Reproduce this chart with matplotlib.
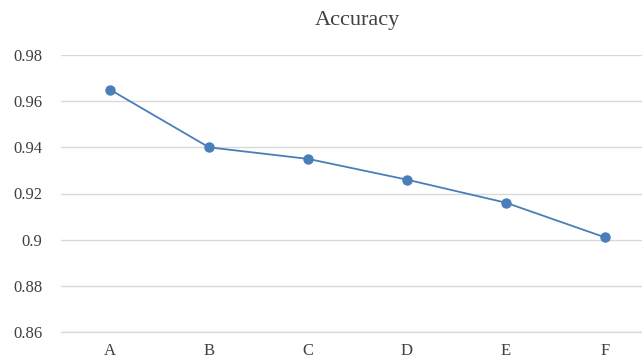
import matplotlib.pyplot as plt

categories = ['A', 'B', 'C', 'D', 'E', 'F']
accuracy = [0.965, 0.940, 0.935, 0.926, 0.916, 0.901]
y_ticks = [0.86, 0.88, 0.9, 0.92, 0.94, 0.96, 0.98]
y_labels = ['0.86', '0.88', '0.9', '0.92', '0.94', '0.96', '0.98']

plt.rcParams['font.family'] = ['Liberation Serif', 'DejaVu Serif']

fig = plt.figure(figsize=(6.42, 3.62), dpi=100)
# plot area runs past the right edge of the figure
ax = fig.add_axes([60.5 / 642, 30 / 362, 594 / 642, 277 / 362])

x = list(range(len(categories)))
ax.plot(x, accuracy, color='#4A7EBB', linewidth=1.3, marker='o',
        markersize=6.5, zorder=3)

ax.set_xlim(-0.5, len(categories) - 0.5)
ax.set_ylim(0.86, 0.98)
ax.set_xticks(x)
ax.set_xticklabels(categories)
ax.set_yticks(y_ticks)
ax.set_yticklabels(y_labels)
ax.tick_params(length=0, labelsize=12, colors='#404040')
ax.tick_params(axis='y', pad=13)
ax.tick_params(axis='x', pad=8)

ax.grid(axis='y', color='#D9D9D9', linewidth=1)
ax.set_axisbelow(True)
for side in ['top', 'right', 'left']:
    ax.spines[side].set_visible(False)
ax.spines['bottom'].set_color('#D9D9D9')
ax.spines['bottom'].set_linewidth(1)

fig.text(357.5 / 642, 1 - 20 / 362, 'Accuracy', ha='center', va='center',
         fontsize=16, color='#404040')

fig.savefig('out.png', dpi=100)
